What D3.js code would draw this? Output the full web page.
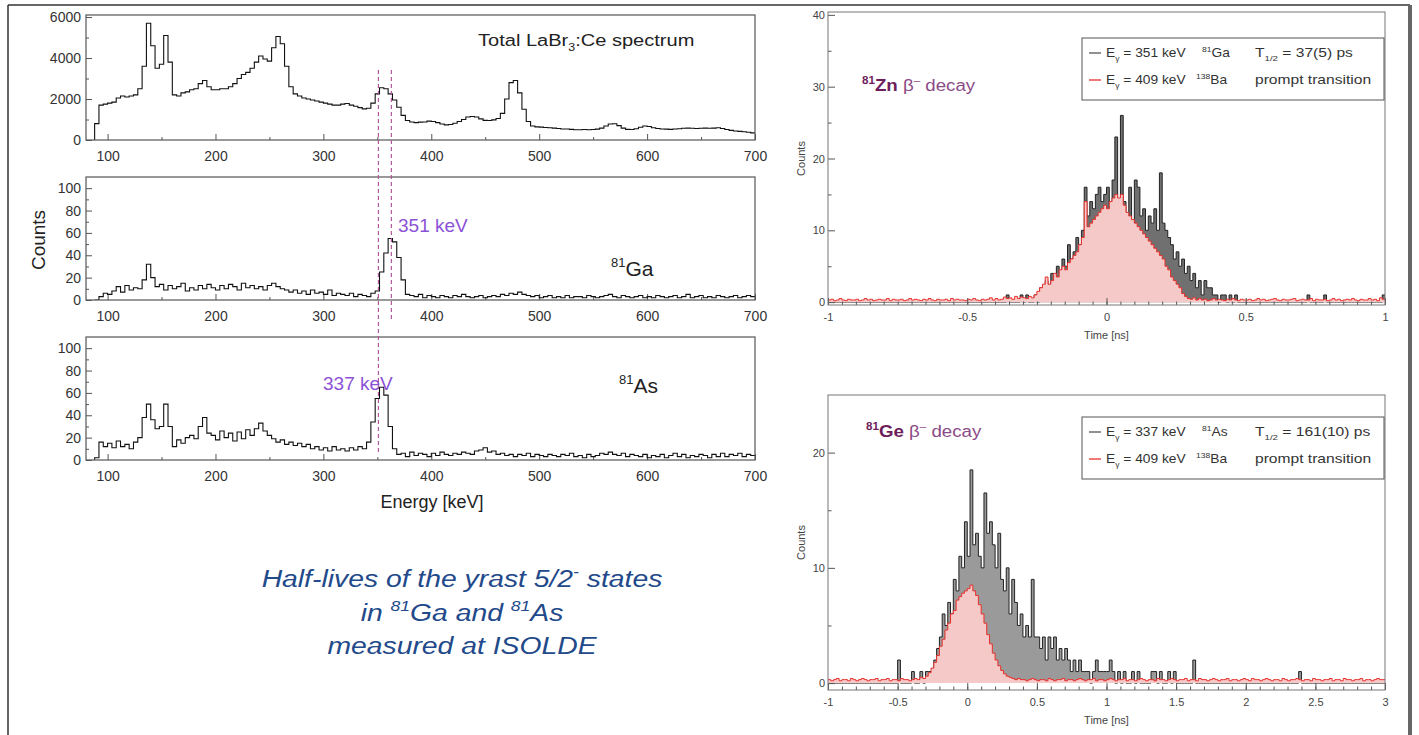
<!DOCTYPE html>
<html>
<head>
<meta charset="utf-8">
<script src="https://cdn.jsdelivr.net/npm/d3@7"></script>
<style>
body { margin: 0; background: #fff; }
svg { font-family: "Liberation Sans", Arial, sans-serif; }
</style>
</head>
<body>
<div id="chart"></div>
<script>
// energy spectra, 4 keV bins starting at 88 keV
var energyStart = 88, energyBin = 4;
var totalCounts = [
  800,1700,1750,1800,1850,2050,2150,2100,2150,2200,
  2500,3600,5700,4600,3500,3700,5100,3800,2200,2150,
  2300,2350,2450,2500,2750,2900,2600,2450,2450,2500,
  2500,2600,2750,3000,3200,3300,3500,3800,4100,3950,
  3850,4500,5050,4700,3600,2600,2250,2150,2050,2000,
  1950,1900,1850,1800,1750,1700,1700,1750,1780,1700,
  1650,1580,1520,1550,1800,2250,2550,2500,2250,1950,
  1600,1200,950,880,850,870,880,920,900,850,
  780,740,760,820,900,1000,1120,1150,1120,1030,
  960,950,980,1050,1300,2000,2800,2900,2300,1500,
  900,680,640,630,610,600,580,560,540,540,
  520,500,500,510,500,510,530,580,680,780,
  790,700,580,520,510,550,620,680,660,600,
  560,540,530,520,540,550,570,580,570,560,
  570,580,570,580,600,560,510,470,440,420,
  400,380,350];
var gaCounts = [
  0,3,6,5,8,12,7,13,9,11,
  10,18,32,20,12,14,9,13,10,12,
  15,8,11,9,13,10,14,11,9,13,
  10,14,12,9,15,11,13,10,12,9,
  13,15,12,10,9,7,9,6,8,5,
  9,6,7,5,9,4,6,5,4,6,
  3,5,4,3,6,8,25,42,55,52,
  38,18,5,4,3,5,2,4,3,2,
  4,3,2,4,3,5,3,2,3,4,
  2,3,4,3,5,4,6,5,7,5,
  4,3,4,2,3,4,2,3,2,4,
  2,3,3,2,4,3,2,3,4,5,
  3,2,4,3,2,3,4,2,3,2,
  4,3,2,3,4,2,3,5,2,3,
  4,2,3,2,4,3,2,3,4,2,
  3,4,3];
var asCounts = [
  2,16,12,15,11,17,12,14,10,16,
  20,38,50,36,28,30,50,30,12,18,
  15,20,22,19,30,38,24,22,18,26,
  20,24,17,25,19,27,22,28,33,26,
  22,19,16,18,14,16,13,15,12,14,
  10,12,9,11,8,12,9,10,8,11,
  9,12,10,16,34,55,65,58,30,10,
  5,6,3,7,4,6,5,3,6,4,
  7,5,4,6,5,7,6,5,8,9,
  11,7,8,5,6,4,5,3,5,4,
  6,3,5,4,3,5,4,3,5,4,
  6,3,4,2,5,3,4,6,5,7,
  5,4,6,3,5,4,3,5,2,4,
  3,5,2,4,6,3,5,2,4,3,
  5,4,2,5,3,6,3,5,4,6,
  3,5,4];
var gateEnergies = [351, 363];
var energyTicks = [100, 200, 300, 400, 500, 600, 700];
var totalTicks = [0, 2000, 4000, 6000];
var gatedTicks = [0, 20, 40, 60, 80, 100];

// time spectra of 81Zn decay, 0.01 ns bins from -1 ns
var znStart = -1, znBin = 0.01;
var znGaCounts = [
  0,0,0,0,0,0,0,0,0,0, 0,0,0,0,0,0,0,0,0,0,
  0,0,0,0,0,0,0,0,0,0, 0,0,0,0,0,0,0,0,0,0,
  0,0,0,0,0,0,0,0,0,0, 0,0,0,0,0,0,0,0,0,0,
  0,0,0,0,1,0,0,0,0,1, 0,1,0,0,1,0,2,1,3,2,
  4,3,5,4,6,5,8,6,7,9, 8,10,16,12,14,13,15,16,14,15,
  16,13,17,23,14,26,14,12,16,11, 17,16,12,13,10,12,11,13,10,18,
  11,10,9,8,6,7,5,6,4,5, 3,4,2,3,1,3,2,2,1,1,
  0,1,1,0,1,0,1,0,0,0, 0,0,0,0,0,0,0,0,0,0,
  0,0,0,0,0,0,0,0,0,0, 0,0,1,0,0,0,0,0,1,0,
  0,0,0,0,0,0,0,0,0,0, 0,0,0,0,0,0,0,0,0,1];
var znBaCounts = [
  .3,.4,.2,.3,.5,.3,.2,.4,.3,.3, .4,.2,.3,.5,.3,.4,.2,.3,.4,.3,
  .3,.5,.2,.4,.3,.3,.4,.2,.3,.5, .3,.4,.3,.2,.4,.3,.5,.3,.2,.4,
  .3,.3,.4,.2,.5,.3,.4,.3,.3,.2, .4,.3,.5,.3,.2,.4,.3,.4,.6,.3,
  .5,.3,.4,.7,.5,.6,.4,.8,.5,.7, .6,.5,.8,.6,1,1.5,2,2.5,3.5,2.5,
  3,4,3.5,4.5,5,4.5,5.5,6,6.5,7, 8,9,14,10.5,11,11.5,12,12.5,13,13.5,
  13,14,14.5,15,14.5,15,13.5,12.5,12,11.5, 11,10.5,10,9.5,9,8.5,8,7.5,7,6.5,
  6,5,4.5,3.5,3,2.5,2,1.2,.8,.5, .4,.6,.3,.5,.3,.4,.2,.3,.5,.3,
  .4,.3,.2,.4,.3,.5,.3,.2,.4,.3, .3,.4,.2,.3,.5,.3,.4,.2,.3,.4,
  .5,.3,.2,.4,.3,.3,.4,.5,.2,.3, .4,.3,.3,.5,.2,.4,.3,.3,.4,.2,
  .3,.5,.3,.4,.2,.3,.4,.3,.5,.3, .2,.4,.3,.3,.5,.3,.4,.2,.6,.4];
var znTimeTicks = [-1, -0.5, 0, 0.5, 1];
var znCountTicks = [0, 10, 20, 30, 40];

// time spectra of 81Ge decay, 0.02 ns bins from -1 ns
var geStart = -1, geBin = 0.02;
var geAsCounts = [
  0,0,0,0,0,0,0,0,0,0, 0,0,0,0,0,0,0,0,0,0,
  0,0,0,0,0,2,0,0,0,0, 1,0,0,1,0,1,1,1,2,3,
  4,6,5,7,6,9,8,11,10,14, 11,18.5,12,13,11,10,16.5,13,14,12,
  10,13,9,8,10,6,9,7,5,6, 4,5,4,9,4,4,3,4,2,4,
  3,4,2,3,2,3,2,1,2,1, 2,1,1,1,0,1,2,1,1,1,
  1,2,1,0,1,0,1,0,0,1, 0,1,0,0,0,0,1,1,0,1,
  0,0,1,0,1,0,0,0,0,0, 0,2,0,0,0,0,0,0,0,0,
  0,0,0,0,0,0,0,0,0,0, 0,0,0,0,0,0,0,0,0,0,
  0,0,0,0,0,0,0,0,0,1, 0,0,0,0,0,0,0,0,0,0,
  0,0,0,0,0,0,0,0,0,0, 0,0,0,0,0,0,0,0,0,0];
var geBaCounts = [
  .3,.2,.3,.4,.2,.3,.3,.2,.4,.3, .2,.3,.4,.3,.2,.3,.3,.4,.2,.3,
  .3,.4,.2,.3,.3,.2,.4,.3,.3,.2, .3,.4,.3,.5,.4,.6,.9,1.3,1.8,2.4,
  3.2,3.8,4.6,5.2,6,6.3,7.2,7.5,7.8,8, 8.2,8.5,8,7.6,6.8,6,5.2,4.2,3.4,2.6,
  2,1.5,1.1,.8,.6,.5,.4,.3,.4,.3, .3,.2,.3,.4,.3,.2,.3,.3,.2,.4,
  .3,.2,.3,.3,.4,.2,.3,.3,.2,.3, .4,.3,.2,.3,.3,.4,.2,.3,.3,.2,
  .3,.4,.3,.2,.3,.3,.4,.2,.3,.3, .2,.3,.4,.3,.2,.3,.3,.2,.4,.3,
  .3,.2,.3,.4,.3,.2,.3,.3,.4,.2, .3,.3,.2,.4,.3,.3,.2,.3,.4,.3,
  .2,.3,.3,.4,.2,.3,.3,.2,.3,.4, .3,.2,.4,.3,.3,.2,.3,.4,.3,.2,
  .3,.3,.2,.4,.3,.2,.3,.3,.4,.3, .2,.3,.3,.2,.4,.3,.3,.2,.3,.3,
  .4,.2,.3,.3,.2,.4,.3,.3,.2,.3, .3,.4,.2,.3,.3,.2,.3,.4,.3,.3];
var geTimeTicks = [-1, -0.5, 0, 0.5, 1, 1.5, 2, 2.5, 3];
var geCountTicks = [0, 10, 20];

var svg = d3.select('#chart').append('svg')
    .attr('width', 1419).attr('height', 735);

// text with super/subscript pieces, optionally stretched sideways like the slide
function addRich(parent, x, y, parts, size, fill, anchor, sx) {
    var holder = parent.append('g')
        .attr('transform', 'translate(' + x + ',' + y + ') scale(' + (sx || 1) + ',1)');
    var t = holder.append('text').attr('x', 0).attr('y', 0)
        .attr('font-size', size).attr('fill', fill)
        .attr('text-anchor', anchor || 'start');
    var shift = 0;
    parts.forEach(function(p) {
        var target = p.sup ? -size * 0.42 : (p.sub ? size * 0.28 : 0);
        var s = t.append('tspan').text(p.t).attr('dy', target - shift);
        shift = target;
        if (p.sup || p.sub) s.attr('font-size', size * 0.62);
        if (p.bold) s.attr('font-weight', 'bold');
        if (p.fill) s.attr('fill', p.fill);
    });
    return t;
}

function histPoints(start, bin, values, fromZero) {
    var pts = values.map(function(v, i) { return [start + i * bin, v]; });
    pts.push([start + values.length * bin, values[values.length - 1]]);
    if (fromZero) pts.unshift([start, 0]);
    return pts;
}

function styleAxis(g, color, fontSize) {
    g.select('.domain').remove();
    g.selectAll('.tick line').attr('stroke', '#555');
    g.selectAll('.tick text').attr('fill', color).attr('font-size', fontSize)
        .attr('font-family', '"Liberation Sans", Arial, sans-serif');
}

function midpoints(ticks) {
    return d3.pairs(ticks).map(function(p) { return (p[0] + p[1]) / 2; });
}

/*
 * one panel of the energy spectra on the left
 */
function createSpectrum(counts, top, bottom, yMax, yTicks, id) {
    var left = 86, right = 755;
    var x = d3.scaleLinear().domain([80, 700]).range([left, right]);
    var y = d3.scaleLinear().domain([0, yMax]).range([bottom, top]);
    var g = svg.append('g');

    g.append('clipPath').attr('id', id).append('rect')
        .attr('x', left).attr('y', top).attr('width', right - left).attr('height', bottom - top);

    var xAxis = d3.axisBottom(x).tickValues(energyTicks).tickSize(-6).tickPadding(11)
        .tickFormat(function(d) { return String(d); });
    var xa = g.append('g').attr('transform', 'translate(0,' + bottom + ')').call(xAxis);
    styleAxis(xa, '#333', 14);
    var xm = g.append('g').attr('transform', 'translate(0,' + bottom + ')')
        .call(d3.axisBottom(x).tickValues(midpoints(energyTicks)).tickSize(-3).tickFormat(''));
    styleAxis(xm, '#333', 14);

    var yAxis = d3.axisLeft(y).tickValues(yTicks).tickSize(-6).tickPadding(5)
        .tickFormat(function(d) { return String(d); });
    var ya = g.append('g').attr('transform', 'translate(' + left + ',0)').call(yAxis);
    styleAxis(ya, '#333', 14);
    var ym = g.append('g').attr('transform', 'translate(' + left + ',0)')
        .call(d3.axisLeft(y).tickValues(midpoints(yTicks)).tickSize(-3).tickFormat(''));
    styleAxis(ym, '#333', 14);

    var line = d3.line().curve(d3.curveStepAfter)
        .x(function(d) { return x(d[0]); })
        .y(function(d) { return y(d[1]); });
    g.append('path')
        .attr('d', line(histPoints(energyStart, energyBin, counts, true)))
        .attr('clip-path', 'url(#' + id + ')')
        .attr('fill', 'none').attr('stroke', '#111').attr('stroke-width', 1.1);

    g.append('rect').attr('x', left).attr('y', top)
        .attr('width', right - left).attr('height', bottom - top)
        .attr('fill', 'none').attr('stroke', '#555').attr('stroke-width', 1.2);
    return x;
}

/*
 * time difference spectrum on the right, gated line in grey and prompt line in red
 */
function createTimePlot(cfg) {
    var left = 828, right = 1385;
    var x = d3.scaleLinear().domain(cfg.xDomain).range([left, right]);
    var y = d3.scaleLinear().domain(cfg.yDomain).range([cfg.bottom, cfg.top]);
    var g = svg.append('g');

    g.append('clipPath').attr('id', cfg.id).append('rect')
        .attr('x', left).attr('y', cfg.top).attr('width', right - left).attr('height', cfg.bottom - cfg.top);

    var area = d3.area().curve(d3.curveStepAfter)
        .x(function(d) { return x(d[0]); })
        .y0(y(0))
        .y1(function(d) { return y(d[1]); });
    var line = d3.line().curve(d3.curveStepAfter)
        .x(function(d) { return x(d[0]); })
        .y(function(d) { return y(d[1]); });

    var gated = histPoints(cfg.start, cfg.bin, cfg.gated, false);
    var prompt = histPoints(cfg.start, cfg.bin, cfg.prompt, false);
    var plot = g.append('g').attr('clip-path', 'url(#' + cfg.id + ')');
    plot.append('path').attr('d', area(gated)).attr('fill', cfg.gatedFill);
    plot.append('path').attr('d', line(gated)).attr('fill', 'none')
        .attr('stroke', '#222').attr('stroke-width', 1);
    plot.append('path').attr('d', area(prompt)).attr('fill', '#f6c9c9');
    plot.append('path').attr('d', line(prompt)).attr('fill', 'none')
        .attr('stroke', '#e8302b').attr('stroke-width', 1);

    var xa = g.append('g').attr('transform', 'translate(0,' + cfg.bottom + ')')
        .call(d3.axisBottom(x).tickValues(cfg.xTicks).tickSize(-7).tickPadding(8)
            .tickFormat(function(d) { return String(d); }));
    styleAxis(xa, '#444', 11);
    var xm = g.append('g').attr('transform', 'translate(0,' + cfg.bottom + ')')
        .call(d3.axisBottom(x).tickValues(cfg.xMinor).tickSize(-3.5).tickFormat(''));
    styleAxis(xm, '#444', 11);
    var ya = g.append('g').attr('transform', 'translate(' + left + ',0)')
        .call(d3.axisLeft(y).tickValues(cfg.yTicks).tickSize(-7).tickPadding(3)
            .tickFormat(function(d) { return String(d); }));
    styleAxis(ya, '#444', 11);
    var ym = g.append('g').attr('transform', 'translate(' + left + ',0)')
        .call(d3.axisLeft(y).tickValues(midpoints(cfg.yTicks)).tickSize(-3.5).tickFormat(''));
    styleAxis(ym, '#444', 11);

    g.append('rect').attr('x', left).attr('y', cfg.top)
        .attr('width', right - left).attr('height', cfg.bottom - cfg.top)
        .attr('fill', 'none').attr('stroke', '#777').attr('stroke-width', 1);

    g.append('text').attr('transform', 'translate(805,' + ((cfg.top + cfg.bottom) / 2) + ') rotate(-90)')
        .attr('text-anchor', 'middle').attr('font-size', 11).attr('fill', '#444').text('Counts');
    g.append('text').attr('x', (left + right) / 2).attr('y', cfg.bottom + 34)
        .attr('text-anchor', 'middle').attr('font-size', 11).attr('fill', '#444').text('Time [ns]');

    // decay label
    addRich(g, cfg.labelX, cfg.labelY, [
        { t: '81', sup: true, bold: true, fill: '#6e1d5c' },
        { t: cfg.parent, bold: true, fill: '#6e1d5c' },
        { t: ' \u03b2', fill: '#8b4a86' },
        { t: '\u2013', sup: true, fill: '#8b4a86' },
        { t: ' decay', fill: '#8b4a86' }
    ], 17, '#8b4a86', 'start', 1.1);

    // legend box
    var lx = 1082, lw = 302;
    g.append('rect').attr('x', lx).attr('y', cfg.legendTop).attr('width', lw).attr('height', 62)
        .attr('fill', '#fff').attr('stroke', '#555').attr('stroke-width', 1);
    var rows = [
        { color: '#555', e: cfg.gatedEnergy, a: '81', el: cfg.daughter, tail: [
            { t: 'T' }, { t: '1/2', sub: true }, { t: ' = ' + cfg.halfLife } ] },
        { color: '#e8302b', e: '409', a: '138', el: 'Ba', tail: [ { t: 'prompt transition' } ] }
    ];
    rows.forEach(function(r, i) {
        var ry = cfg.legendTop + 19 + i * 27;
        g.append('line').attr('x1', lx + 7).attr('x2', lx + 19).attr('y1', ry - 4).attr('y2', ry - 4)
            .attr('stroke', r.color).attr('stroke-width', 1.3);
        addRich(g, lx + 24, ry, [ { t: 'E' }, { t: '\u03b3', sub: true }, { t: ' = ' + r.e + ' keV' } ], 13, '#333', 'start', 1.06);
        addRich(g, lx + (i === 0 ? 120 : 114), ry, [ { t: r.a, sup: true }, { t: r.el } ], 13, '#333', 'start', 1.06);
        addRich(g, lx + 173, ry, r.tail, 13, '#333', 'start', 1.2);
    });
}

// left column
var ex = createSpectrum(totalCounts, 15, 140, 6100, totalTicks, 'clipTotal');
createSpectrum(gaCounts, 177, 300, 110, gatedTicks, 'clipGa');
createSpectrum(asCounts, 337, 460, 110, gatedTicks, 'clipAs');

// gate markers through the panels
var gateEnds = [455, 322];
gateEnergies.forEach(function(e, i) {
    svg.append('line').attr('x1', ex(e)).attr('x2', ex(e)).attr('y1', 70).attr('y2', gateEnds[i])
        .attr('stroke', '#b1589a').attr('stroke-width', 1.2).attr('stroke-dasharray', '4,3');
});

addRich(svg, 478, 46, [ { t: 'Total LaBr' }, { t: '3', sub: true }, { t: ':Ce spectrum' } ], 17, '#222', 'start', 1.18);
addRich(svg, 611, 276, [ { t: '81', sup: true }, { t: 'Ga' } ], 21, '#222');
addRich(svg, 619, 393, [ { t: '81', sup: true }, { t: 'As' } ], 21, '#222');
svg.append('text').attr('x', 398).attr('y', 232).attr('font-size', 19).attr('fill', '#8b52d8').text('351 keV');
svg.append('text').attr('x', 323).attr('y', 390).attr('font-size', 19).attr('fill', '#8b52d8').text('337 keV');
svg.append('text').attr('transform', 'translate(45,240) rotate(-90)').attr('text-anchor', 'middle')
    .attr('font-size', 19).attr('fill', '#222').text('Counts');
svg.append('text').attr('x', 432).attr('y', 508).attr('text-anchor', 'middle')
    .attr('font-size', 18).attr('fill', '#222').text('Energy [keV]');

// caption
var cap = svg.append('g').attr('font-style', 'italic');
addRich(cap, 462, 587, [ { t: 'Half-lives of the yrast 5/2' }, { t: '-', sup: true }, { t: ' states' } ], 24, '#22498a', 'middle', 1.18);
addRich(cap, 462, 621, [ { t: 'in ' }, { t: '81', sup: true }, { t: 'Ga and ' }, { t: '81', sup: true }, { t: 'As' } ], 24, '#22498a', 'middle', 1.18);
addRich(cap, 462, 654, [ { t: 'measured at ISOLDE' } ], 24, '#22498a', 'middle', 1.18);

// right column
createTimePlot({
    id: 'clipZn', top: 12, bottom: 305, xDomain: [-1, 1], yDomain: [-0.4, 40.4],
    xTicks: znTimeTicks, xMinor: d3.range(-0.95, 1, 0.05), yTicks: znCountTicks,
    start: znStart, bin: znBin, gated: znGaCounts, prompt: znBaCounts, gatedFill: '#707070',
    parent: 'Zn', labelX: 862, labelY: 91, legendTop: 38,
    gatedEnergy: '351', daughter: 'Ga', halfLife: '37(5) ps'
});
createTimePlot({
    id: 'clipGe', top: 395, bottom: 690, xDomain: [-1, 3], yDomain: [-0.6, 25],
    xTicks: geTimeTicks, xMinor: d3.range(-0.9, 3, 0.1), yTicks: geCountTicks,
    start: geStart, bin: geBin, gated: geAsCounts, prompt: geBaCounts, gatedFill: '#9a9a9a',
    parent: 'Ge', labelX: 866, labelY: 437, legendTop: 417,
    gatedEnergy: '337', daughter: 'As', halfLife: '161(10) ps'
});

// page border
svg.append('line').attr('x1', 8).attr('x2', 8).attr('y1', 5).attr('y2', 735)
    .attr('stroke', '#333').attr('stroke-width', 1.5);
svg.append('line').attr('x1', 8).attr('x2', 1410).attr('y1', 5).attr('y2', 5)
    .attr('stroke', '#333').attr('stroke-width', 1.5);
svg.append('rect').attr('x', 1408).attr('y', 5).attr('width', 4).attr('height', 730).attr('fill', '#666');
</script>
</body>
</html>
